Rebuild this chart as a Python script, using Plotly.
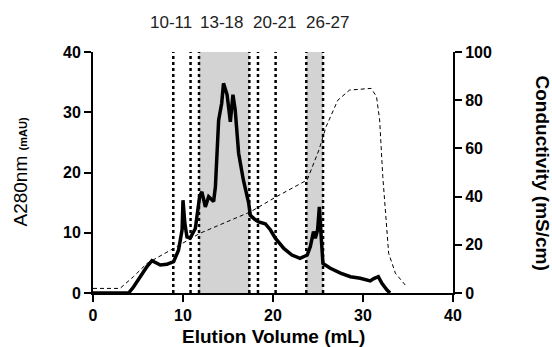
import plotly.graph_objects as go

# A280 trace (mAU) vs elution volume (mL)
a280_x = [0, 1, 2, 3, 3.96, 4.5, 5.26, 6.0, 6.55, 7.0, 7.48, 8.2, 8.96, 9.5, 9.9, 10.0, 10.2, 10.44,
          10.8, 11.37, 11.85, 12.1, 12.48, 12.85, 13.4, 13.6, 13.96, 14.3, 14.5, 14.9, 15.26, 15.55,
          15.8, 16.18, 16.7, 17.3, 17.48, 18.0, 18.4, 19.14, 19.7, 20.26, 21.2, 22.1, 23.0, 23.8,
          24.15, 24.5, 24.7, 24.96, 25.15, 25.33, 25.55, 26.37, 27.5, 28.6, 29.7, 30.8, 31.2, 31.7,
          32.1, 32.67, 33.0]
a280_y = [0, 0, 0, 0, 0, 1.0, 2.7, 4.4, 5.36, 5.0, 4.65, 4.76, 5.2, 7.1, 10.5, 15.4, 11.6, 9.3,
          9.1, 10.7, 16.0, 16.8, 14.3, 16.0, 15.2, 17.6, 28.7, 31.5, 34.8, 32.9, 28.4, 32.9,
          30.4, 23.2, 18.8, 14.9, 12.9, 12.2, 11.8, 11.5, 10.5, 9.1, 7.4, 6.3, 5.75, 6.3,
          7.7, 10.2, 9.1, 10.5, 14.3, 9.9, 4.9, 4.1, 3.3, 2.7, 2.45, 2.0, 2.4, 2.7,
          1.6, 0.5, 0]

# Conductivity trace (mS/cm)
cond_x = [0, 3.0, 4.5, 6.0, 8.96, 11.9, 17.5, 20.4, 23.8, 25.1, 25.9, 27.2, 28.5, 30.9, 31.5,
          31.85, 32.2, 32.85, 33.6, 34.7]
cond_y = [1.9, 1.9, 6.8, 12.3, 18.5, 24.8, 33.7, 40.0, 46.9, 59.3, 69.0, 80.0, 84.2, 84.9, 81.5,
          71.8, 48.3, 16.5, 8.2, 3.3]

# Fraction boundaries (mL) and shaded fraction ranges
fraction_lines = [8.92, 10.84, 11.78, 17.37, 18.33, 20.29, 23.7, 25.56]
shaded_ranges = [(11.78, 17.37), (23.7, 25.56)]
fraction_labels = ["10-11", "13-18", "20-21", "26-27"]
fraction_label_x = [8.72, 14.26, 20.2, 26.03]

x_ticks = [0, 10, 20, 30, 40]
y_ticks = [0, 10, 20, 30, 40]
y2_ticks = [0, 20, 40, 60, 80, 100]

FONT = "Liberation Sans, Arial, sans-serif"

fig = go.Figure()
fig.add_trace(go.Scatter(x=cond_x, y=cond_y, mode="lines", yaxis="y2",
                         line=dict(color="black", width=1, dash="4px,3px"), showlegend=False))
fig.add_trace(go.Scatter(x=a280_x, y=a280_y, mode="lines",
                         line=dict(color="black", width=3.5), showlegend=False))

shapes = []
for x0, x1 in shaded_ranges:
    shapes.append(dict(type="rect", xref="x", yref="y", x0=x0, x1=x1, y0=0, y1=40,
                       fillcolor="#d3d3d3", line=dict(width=0), layer="below"))
for xv in fraction_lines:
    shapes.append(dict(type="line", xref="x", yref="y", x0=xv, x1=xv, y0=0, y1=40,
                       line=dict(color="black", width=2.5, dash="dot"), layer="below"))

annotations = []
for lab, xv in zip(fraction_labels, fraction_label_x):
    annotations.append(dict(text=lab, x=xv, xref="x", xanchor="center",
                            y=1, yref="paper", yanchor="middle", yshift=30,
                            showarrow=False, font=dict(family=FONT, size=17, color="#222")))
annotations.append(dict(text="A280nm <b><span style='font-size:11px'>(mAU)</span></b>",
                        x=0, xref="paper", xanchor="center", xshift=-73,
                        y=0.5, yref="paper", yanchor="middle",
                        textangle=-90, showarrow=False,
                        font=dict(family=FONT, size=19, color="black")))
annotations.append(dict(text="<b>Conductivity (mS/cm)</b>",
                        x=1, xref="paper", xanchor="center", xshift=89,
                        y=0.5, yref="paper", yanchor="middle",
                        textangle=90, showarrow=False,
                        font=dict(family=FONT, size=19, color="black")))
annotations.append(dict(text="<b>Elution Volume (mL)</b>",
                        x=0.5, xref="paper", xanchor="center",
                        y=0, yref="paper", yanchor="middle", yshift=-43,
                        showarrow=False, font=dict(family=FONT, size=19, color="black")))

tickfont = dict(family=FONT, size=16, color="black", weight="bold")
fig.update_layout(
    width=552, height=347,
    margin=dict(l=93, r=99, t=52, b=54),
    plot_bgcolor="white", paper_bgcolor="white",
    shapes=shapes, annotations=annotations,
    xaxis=dict(range=[0, 40], tickvals=x_ticks, showgrid=False, zeroline=False,
               showline=True, linecolor="black", linewidth=2, ticks="outside",
               ticklen=7, tickwidth=2, tickcolor="black", tickfont=tickfont),
    yaxis=dict(range=[0, 40], tickvals=y_ticks, showgrid=False, zeroline=False,
               showline=True, linecolor="black", linewidth=2, ticks="outside",
               ticklen=7, tickwidth=2, tickcolor="black", tickfont=tickfont),
    yaxis2=dict(range=[0, 100], tickvals=y2_ticks, overlaying="y", side="right",
                showgrid=False, zeroline=False, showline=True, linecolor="black",
                linewidth=2, ticks="outside", ticklen=7, tickwidth=2, tickcolor="black",
                tickfont=tickfont),
)

fig.write_html("out.html")
